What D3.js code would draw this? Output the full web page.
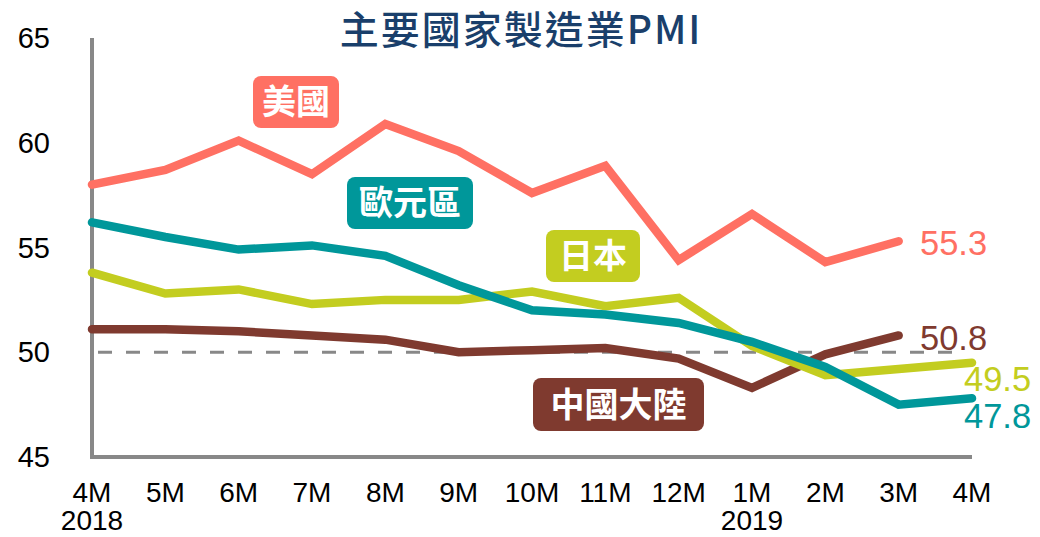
<!DOCTYPE html>
<html><head><meta charset="utf-8">
<script src="https://cdn.jsdelivr.net/npm/d3@7"></script>
<style>body{margin:0;background:#fff}svg{display:block}</style>
</head><body>
<svg id="c" width="1040" height="537"></svg>
<script>
const months = ["4M","5M","6M","7M","8M","9M","10M","11M","12M","1M","2M","3M","4M"];
const years = ["2018","","","","","","","","","2019","","",""];
const yTicks = [45,50,55,60,65];
const usa = [58.0,58.7,60.1,58.5,60.9,59.6,57.6,58.9,54.4,56.6,54.3,55.3,null];
const euro = [56.2,55.5,54.9,55.1,54.6,53.2,52.0,51.8,51.4,50.5,49.3,47.5,47.8];
const japan = [53.8,52.8,53.0,52.3,52.5,52.5,52.9,52.2,52.6,50.3,48.9,49.2,49.5];
const china = [51.1,51.1,51.0,50.8,50.6,50.0,50.1,50.2,49.7,48.3,49.9,50.8,null];
const seriesNames = ["美國","歐元區","日本","中國大陸"];
const colors = ["#FF7063","#00979A","#C3CD20","#7F3A2F"];

const svg = d3.select("#c");
const font = "'Liberation Sans', Arial, sans-serif";
const cjk = "'Noto Sans CJK TC','Noto Sans CJK SC',sans-serif";
const x = d3.scalePoint().domain(d3.range(months.length)).range([92,972]);
const y = d3.scaleLinear().domain([45,65]).range([457,38]);

// title
svg.append("text").attr("x",521).attr("y",44).attr("text-anchor","middle")
  .attr("font-family",cjk).attr("font-weight",500).attr("font-size",39).attr("letter-spacing",2)
  .attr("fill","#1A3F6B").text("主要國家製造業PMI");

// y tick labels
svg.selectAll(".yt").data(yTicks).enter().append("text")
  .attr("x",50).attr("y",d=>y(d)+10).attr("text-anchor","end")
  .attr("font-family",font).attr("font-size",29).attr("fill","#000").text(d=>d);

// x tick labels (month + optional year line)
const xt = svg.selectAll(".xt").data(months).enter().append("text")
  .attr("x",(d,i)=>x(i)).attr("y",502).attr("text-anchor","middle")
  .attr("font-family",font).attr("font-size",28).attr("fill","#000");
xt.append("tspan").attr("x",(d,i)=>x(i)).text(d=>d);
xt.filter((d,i)=>years[i]!=="").append("tspan").attr("x",(d,i,n)=>x(months.indexOf(d)===0?0:9))
  .attr("dy",28).text((d,i)=>"");
// set year text explicitly by index
xt.each(function(d,i){
  if(years[i]!==""){
    const ts = d3.select(this).selectAll("tspan").filter((_,j)=>j===1);
    ts.attr("x",x(i)).text(years[i]);
  }
});

// axes
svg.append("line").attr("x1",92).attr("x2",92).attr("y1",y(65)).attr("y2",y(45)+2)
  .attr("stroke","#888").attr("stroke-width",4);
svg.append("line").attr("x1",90).attr("x2",x(12)).attr("y1",y(45)).attr("y2",y(45))
  .attr("stroke","#888").attr("stroke-width",4);

// 50 reference
svg.append("line").attr("x1",98).attr("x2",952).attr("y1",y(50)).attr("y2",y(50))
  .attr("stroke","#888").attr("stroke-width",3).attr("stroke-dasharray","14,14");

const line = d3.line().defined(d=>d!=null).x((d,i)=>x(i)).y(d=>y(d));
const all = [usa,euro,japan,china];
[3,2,1,0].forEach(k=>{
  svg.append("path").datum(all[k]).attr("d",line).attr("fill","none")
    .attr("stroke",colors[k]).attr("stroke-width",8.5).attr("stroke-linejoin","miter").attr("stroke-linecap","round");
});

// series name boxes
const boxes = [
  {k:0,x:253,y:76,w:86,h:52},
  {k:1,x:347,y:177,w:126,h:52},
  {k:2,x:546,y:230,w:94,h:52},
  {k:3,x:533,y:378,w:171,h:53}
];
boxes.forEach(b=>{
  svg.append("rect").attr("x",b.x).attr("y",b.y).attr("width",b.w).attr("height",b.h)
    .attr("rx",8).attr("fill",colors[b.k]);
  svg.append("text").attr("x",b.x+b.w/2).attr("y",b.y+b.h/2+12).attr("text-anchor","middle")
    .attr("font-family",cjk).attr("font-weight","bold").attr("font-size",34).attr("fill","#fff")
    .text(seriesNames[b.k]);
});

// end value labels
const ends = [
  {k:0,v:usa[11],x:920,y:255},
  {k:3,v:china[11],x:920,y:350},
  {k:2,v:japan[12],x:964,y:391},
  {k:1,v:euro[12],x:964,y:428}
];
ends.forEach(e=>{
  svg.append("text").attr("x",e.x).attr("y",e.y).attr("font-family",font).attr("font-size",34.5)
    .attr("fill",colors[e.k]).text(e.v.toFixed(1));
});
</script>
</body></html>
